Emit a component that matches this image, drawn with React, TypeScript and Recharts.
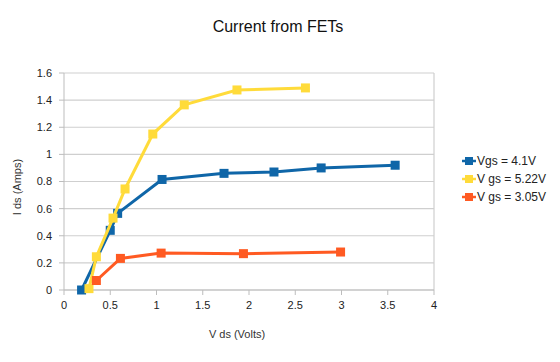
import { CartesianGrid, ReferenceLine, Scatter, ScatterChart, XAxis, YAxis } from "recharts";

const seriesNames = ["Vgs = 4.1V", "V gs = 5.22V", "V gs = 3.05V"];
const colors = ["#0f66a8", "#ffdb3a", "#ff5a22"];

// V ds (Volts) / I ds (Amps)
const vgs41Vds = [0.19, 0.5, 0.58, 1.06, 1.73, 2.27, 2.78, 3.58];
const vgs41Ids = [0.0, 0.44, 0.565, 0.815, 0.86, 0.87, 0.9, 0.92];

const vgs522Vds = [0.27, 0.35, 0.53, 0.66, 0.96, 1.3, 1.87, 2.61];
const vgs522Ids = [0.01, 0.245, 0.53, 0.745, 1.15, 1.365, 1.475, 1.49];

const vgs305Vds = [0.35, 0.61, 1.05, 1.94, 2.99];
const vgs305Ids = [0.07, 0.233, 0.272, 0.268, 0.28];

const xTicks = [0, 0.5, 1, 1.5, 2, 2.5, 3, 3.5, 4];
const yTicks = [0, 0.2, 0.4, 0.6, 0.8, 1, 1.2, 1.4, 1.6];

const toPoints = (xs: number[], ys: number[]) => xs.map((x, i) => ({ x, y: ys[i] }));

const series = [
  toPoints(vgs41Vds, vgs41Ids),
  toPoints(vgs522Vds, vgs522Ids),
  toPoints(vgs305Vds, vgs305Ids)
];

const font = "'Liberation Sans', Arial, sans-serif";

function squareShape(color: string) {
  return (props: any) => {
    const { cx, cy } = props;
    if (cx == null || cy == null) return <g />;
    return <rect x={cx - 4.5} y={cy - 4.5} width={9} height={9} fill={color} />;
  };
}

function LegendBox() {
  return (
    <div style={{ position: "absolute", left: 462, top: 152, fontFamily: font, fontSize: 12, color: "#222" }}>
      {seriesNames.map((name, i) => (
        <div key={name} style={{ display: "flex", alignItems: "center", height: 18 }}>
          <svg width={14} height={10} style={{ marginRight: 1 }}>
            <line x1={0} y1={5} x2={14} y2={5} stroke={colors[i]} strokeWidth={2.5} />
            <rect x={3} y={1} width={8} height={8} fill={colors[i]} />
          </svg>
          <span>{name}</span>
        </div>
      ))}
    </div>
  );
}

export default function App() {
  const tick = { fill: "#222", fontSize: 11, fontFamily: font };
  return (
    <div style={{ position: "absolute", left: 0, top: 0, width: 560, height: 362, background: "#fff", fontFamily: font }}>
      <div style={{ position: "absolute", left: 0, width: 556, top: 18, textAlign: "center", fontSize: 16, color: "#111" }}>
        Current from FETs
      </div>
      <div style={{ position: "absolute", left: 200, width: 74, top: 328, textAlign: "center", fontSize: 11, color: "#333" }}>
        V ds (Volts)
      </div>
      <div
        style={{
          position: "absolute",
          left: -23,
          top: 181,
          width: 80,
          textAlign: "center",
          fontSize: 11,
          color: "#333",
          transform: "rotate(-90deg)"
        }}
      >
        I ds (Amps)
      </div>
      <ScatterChart width={560} height={362} margin={{ top: 73, right: 126, bottom: 42, left: 0 }}>
        <CartesianGrid vertical={false} stroke="#cfcfcf" strokeWidth={1.2} />
        <XAxis
          type="number"
          dataKey="x"
          domain={[0, 4]}
          ticks={xTicks}
          tick={tick}
          height={30}
          tickSize={5}
          tickMargin={6}
          stroke="#bdbdbd"
        />
        <YAxis
          type="number"
          dataKey="y"
          domain={[0, 1.6]}
          ticks={yTicks}
          tick={tick}
          width={64}
          tickSize={5}
          tickMargin={7}
          stroke="#bdbdbd"
        />
        <ReferenceLine x={4} stroke="#cfcfcf" strokeWidth={1.2} />
        {series.map((pts, i) => (
          <Scatter
            key={seriesNames[i]}
            name={seriesNames[i]}
            data={pts}
            fill={colors[i]}
            line={{ stroke: colors[i], strokeWidth: 3 }}
            shape={squareShape(colors[i])}
            isAnimationActive={false}
          />
        ))}
      </ScatterChart>
      <LegendBox />
    </div>
  );
}
